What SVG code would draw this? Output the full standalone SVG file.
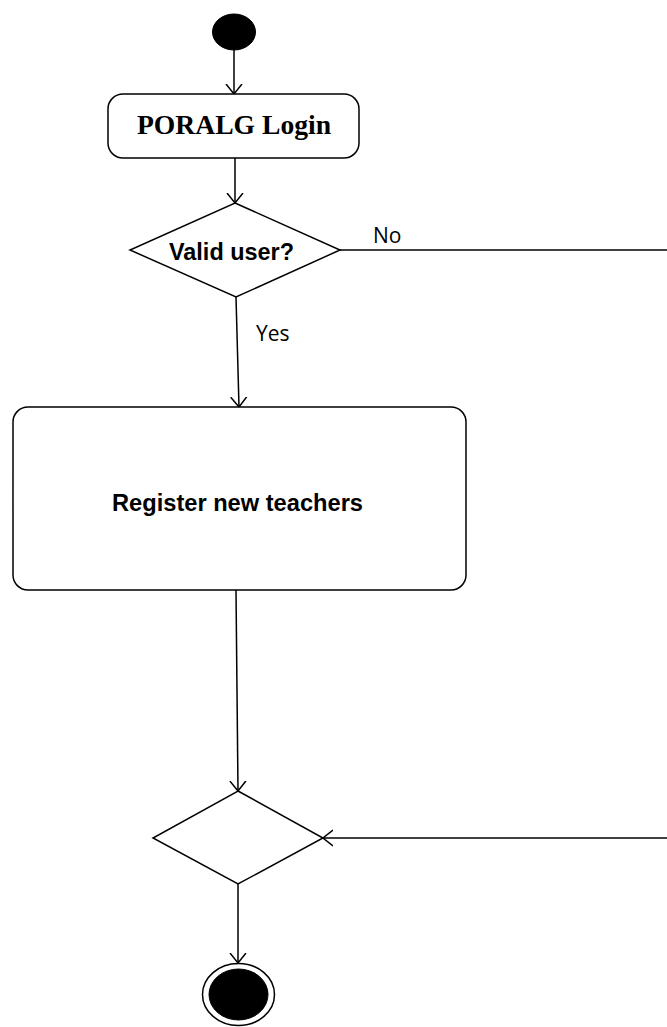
<svg xmlns="http://www.w3.org/2000/svg" width="667" height="1027" viewBox="0 0 667 1027">
  <style>
    .shape { fill: #ffffff; stroke: #000000; stroke-width: 1.5; }
    .solid { fill: #000000; stroke: #000000; stroke-width: 1; }
    .edge { fill: none; stroke: #000000; stroke-width: 1.5; }
    .edge-arrow { fill: none; stroke: #000000; stroke-width: 1.5; marker-end: url(#open-arrow); }
    .serif-label { font-family: "Liberation Serif", "Times New Roman", serif; font-weight: bold; font-size: 27px; fill: #000000; }
    .node-label { font-family: "Liberation Sans", Arial, sans-serif; font-weight: bold; font-size: 23px; fill: #000000; }
    .guard { font-family: "Open Sans", "Liberation Sans", sans-serif; font-size: 21px; fill: #000000; }
  </style>
  <defs>
    <marker id="open-arrow" markerUnits="userSpaceOnUse" viewBox="0 0 10 18" refX="10" refY="9" markerWidth="10" markerHeight="18" orient="auto">
      <path d="M0,1 L10,9 L0,17" fill="none" stroke="#000000" stroke-width="1.5"/>
    </marker>
  </defs>

  <!-- connectors -->
  <g id="connectors">
    <line class="edge-arrow" x1="234" y1="50" x2="234" y2="94"/>
    <line class="edge-arrow" x1="235" y1="158" x2="235" y2="203"/>
    <line class="edge" x1="340" y1="250" x2="667" y2="250"/>
    <text class="guard" x="373" y="243">No</text>
    <line class="edge-arrow" x1="236" y1="297" x2="239" y2="407"/>
    <text class="guard" x="256" y="341">Yes</text>
    <line class="edge-arrow" x1="236" y1="590" x2="238" y2="791"/>
    <line class="edge-arrow" x1="667" y1="838" x2="323" y2="838"/>
    <line class="edge-arrow" x1="238" y1="884" x2="238" y2="963"/>
  </g>

  <!-- initial node -->
  <g id="start">
    <ellipse class="solid" cx="234" cy="32" rx="21.5" ry="18"/>
  </g>

  <!-- login action -->
  <g id="poralg-login">
    <rect class="shape" x="108" y="94" width="251" height="64" rx="15" ry="15"/>
    <text class="serif-label" x="234" y="134" text-anchor="middle" textLength="194" lengthAdjust="spacingAndGlyphs">PORALG Login</text>
  </g>

  <!-- user check -->
  <g id="valid-user">
    <polygon class="shape" points="235,203 340,250 236,297 130,250"/>
    <text class="node-label" x="231.5" y="260" text-anchor="middle" textLength="125" lengthAdjust="spacingAndGlyphs">Valid user?</text>
  </g>

  <!-- registration action -->
  <g id="register-teachers">
    <rect class="shape" x="13" y="407" width="453" height="183" rx="15" ry="15"/>
    <text class="node-label" x="237.5" y="511" text-anchor="middle" textLength="251" lengthAdjust="spacingAndGlyphs">Register new teachers</text>
  </g>

  <!-- merge node -->
  <g id="merge">
    <polygon class="shape" points="238,791 323,838 238,884 153,838"/>
  </g>

  <!-- final node -->
  <g id="end">
    <ellipse class="shape" cx="238.5" cy="994.5" rx="36" ry="31"/>
    <ellipse class="solid" cx="238.5" cy="994.5" rx="29.5" ry="25.5"/>
  </g>
</svg>
